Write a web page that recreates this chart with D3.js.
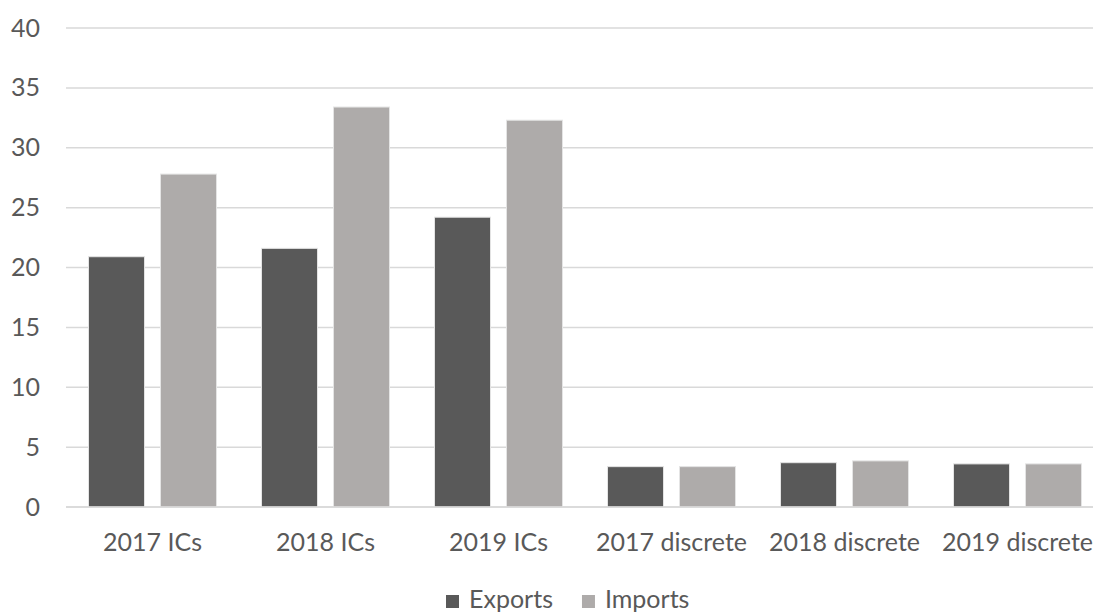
<!DOCTYPE html>
<html>
<head>
<meta charset="utf-8">
<script src="https://cdn.jsdelivr.net/npm/d3@7"></script>
<style>
  html, body { margin: 0; padding: 0; background: #fff; overflow: hidden; }
  svg { display: block; }
  text { font-family: Lato, "Open Sans", sans-serif; fill: #595959; }
</style>
</head>
<body>
<svg id="chart" width="1093" height="612"></svg>
<script>
// Trade in integrated circuits and discrete components
const categories = ["2017 ICs", "2018 ICs", "2019 ICs", "2017 discrete", "2018 discrete", "2019 discrete"];
const seriesNames = ["Exports", "Imports"];
const exportsValues = [20.9, 21.6, 24.2, 3.37, 3.7, 3.6];
const importsValues = [27.8, 33.4, 32.3, 3.37, 3.85, 3.6];
const yTicks = [0, 5, 10, 15, 20, 25, 30, 35, 40];

const colors = { Exports: "#595959", Imports: "#aeabaa" };
const seriesValues = { Exports: exportsValues, Imports: importsValues };

const svg = d3.select("#chart");
const plot = { left: 66, right: 1104, top: 28, bottom: 507 };
const fontSize = 25;

const x = d3.scaleBand().domain(categories).range([plot.left, plot.right]).paddingInner(0).paddingOuter(0);
const x1 = d3.scaleBand().domain(seriesNames).range([0, x.bandwidth()]).paddingInner(0.222).paddingOuter(0.3125);
const y = d3.scaleLinear().domain([0, 40]).range([plot.bottom, plot.top]);

// horizontal gridlines
svg.append("g")
  .selectAll("line")
  .data(yTicks)
  .join("line")
  .attr("x1", plot.left).attr("x2", plot.right)
  .attr("y1", d => y(d)).attr("y2", d => y(d))
  .attr("stroke", "#d9d9d9").attr("stroke-width", 1.5);

// y axis labels
const yAxis = d3.axisLeft(y).tickValues(yTicks).tickSize(0).tickPadding(26);
const gy = svg.append("g").attr("transform", `translate(${plot.left},0)`).call(yAxis);
gy.select(".domain").remove();
gy.selectAll("text").style("font-size", fontSize + "px").attr("fill", "#595959");

// bars
const groups = svg.append("g")
  .selectAll("g")
  .data(categories)
  .join("g")
  .attr("transform", d => `translate(${x(d)},0)`);

groups.selectAll("rect")
  .data((c, i) => seriesNames.map(s => ({ s, v: seriesValues[s][i] })))
  .join("rect")
  .attr("x", d => x1(d.s))
  .attr("width", x1.bandwidth())
  .attr("y", d => y(d.v))
  .attr("height", d => y(0) - y(d.v))
  .attr("fill", d => colors[d.s])
  .attr("stroke", "#e4e4e4")
  .attr("stroke-width", 1);

// category axis line over bar bases
svg.append("line")
  .attr("x1", plot.left).attr("x2", plot.right)
  .attr("y1", y(0)).attr("y2", y(0))
  .attr("stroke", "#d9d9d9").attr("stroke-width", 1.5);

// category labels
const xAxis = d3.axisBottom(x).tickSize(0).tickPadding(0);
const gx = svg.append("g").attr("transform", `translate(0,${plot.bottom})`).call(xAxis);
gx.select(".domain").remove();
gx.selectAll("text")
  .style("font-size", fontSize + "px")
  .attr("dy", null)
  .attr("y", 44)
  .attr("fill", "#595959");

// legend
const legend = svg.append("g");
let lx = 446;
const ly = 608;
seriesNames.forEach(name => {
  legend.append("rect")
    .attr("x", lx).attr("y", ly - 13)
    .attr("width", 13).attr("height", 13)
    .attr("fill", colors[name]);
  const t = legend.append("text")
    .attr("x", lx + 23).attr("y", ly)
    .style("font-size", fontSize + "px")
    .text(name);
  lx += 23 + t.node().getComputedTextLength() + 29;
});
</script>
</body>
</html>
